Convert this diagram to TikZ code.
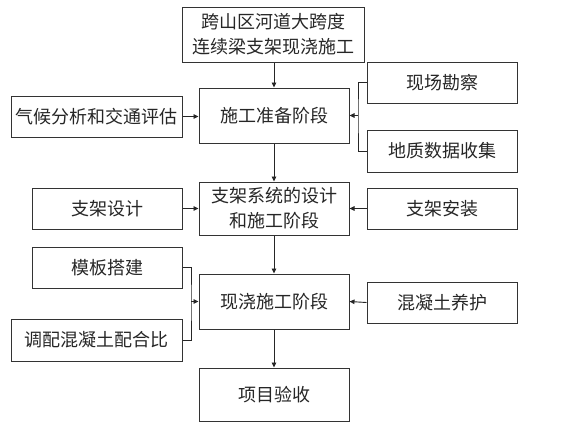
\documentclass[tikz,border=0pt]{standalone}
\usepackage{fontspec}
\setmainfont{Noto Sans CJK SC}
\usetikzlibrary{arrows.meta}
\begin{document}
\begin{tikzpicture}[x=1pt,y=-1pt,
  box/.style={draw=black!80, line width=1pt, inner sep=0pt, align=center,
    text=black!85, font=\fontsize{18}{25}\selectfont},
  conn/.style={draw=black!85, line width=0.9pt},
  arr/.style={conn, -{Triangle[length=5pt,width=4.5pt]}}]
\useasboundingbox (0,0) rectangle (561,423);
\node[box, minimum width=182pt, minimum height=55pt] (top) at (273.5,34.5) {跨山区河道大跨度\\连续梁支架现浇施工};
\node[box, minimum width=150pt, minimum height=55pt] (prep) at (274,115.5) {施工准备阶段};
\node[box, minimum width=171pt, minimum height=41pt] (climate) at (96.5,116.5) {气候分析和交通评估};
\node[box, minimum width=150pt, minimum height=41pt] (survey) at (442,82.5) {现场勘察};
\node[box, minimum width=150pt, minimum height=42pt] (geo) at (442,151) {地质数据收集};
\node[box, minimum width=150pt, minimum height=53pt] (design) at (274,208.5) {支架系统的设计\\和施工阶段};
\node[box, minimum width=150pt, minimum height=41pt] (bdesign) at (107,208.5) {支架设计};
\node[box, minimum width=150pt, minimum height=41pt] (install) at (442,208.5) {支架安装};
\node[box, minimum width=150pt, minimum height=55pt] (cast) at (274,301.5) {现浇施工阶段};
\node[box, minimum width=150pt, minimum height=41pt] (formwork) at (107,267.5) {模板搭建};
\node[box, minimum width=171pt, minimum height=42pt] (mix) at (96.5,340) {调配混凝土配合比};
\node[box, minimum width=150pt, minimum height=41pt] (cure) at (442,302.5) {混凝土养护};
\node[box, minimum width=150pt, minimum height=53pt] (accept) at (274,394.5) {项目验收};
\coordinate (jr) at (358,115.5);
\coordinate (jl) at (191,301.5);
\draw[arr] (top.south -| prep.north) -- (prep.north);
\draw[arr] (climate.east) -- (climate.east -| prep.west);
\draw[conn] (survey.west) -| (jr) |- (geo.west);
\draw[arr] (jr) -- (prep.east);
\draw[arr] (prep.south) -- (design.north);
\draw[arr] (bdesign.east) -- (design.west);
\draw[arr] (install.west) -- (design.east);
\draw[arr] (design.south) -- (cast.north);
\draw[conn] (formwork.east) -| (jl) |- (mix.east);
\draw[arr] (jl) -- (cast.west);
\draw[arr] (cure.west) -- (cast.east);
\draw[arr] (cast.south) -- (accept.north);
\end{tikzpicture}
\end{document}
